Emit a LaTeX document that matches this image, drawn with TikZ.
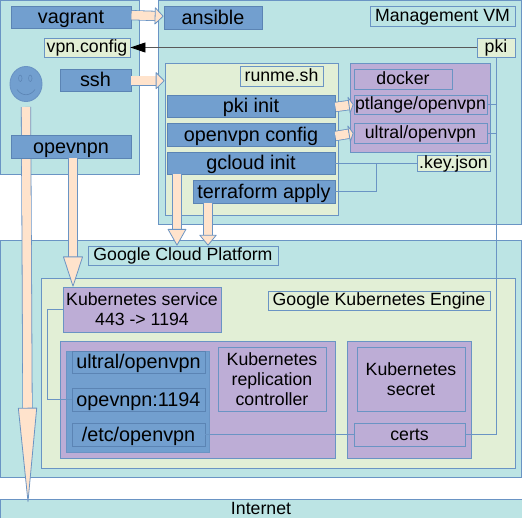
\documentclass[tikz,border=0pt]{standalone}
\usepackage{fontspec}
\setmainfont{Liberation Sans}
\usepackage{xcolor}
\usetikzlibrary{arrows.meta,calc,shapes.geometric}
\definecolor{panelteal}{HTML}{BCE4E4}
\definecolor{panelgreen}{HTML}{E2EFD6}
\definecolor{boxblue}{HTML}{729FCF}
\definecolor{boxpurple}{HTML}{BDADD6}
\definecolor{peach}{HTML}{FFE3CC}
\definecolor{edgeblue}{HTML}{6A94C4}
\definecolor{edgedark}{HTML}{5B84B4}

\begin{document}
\begin{tikzpicture}[
    x=1pt, y=-1pt,
    bigfont/.style={font=\fontsize{19.8}{20}\selectfont, text height=16pt, text depth=2pt},
    smallfont/.style={font=\fontsize{17.7}{20}\selectfont, text height=13pt, text depth=2pt},
    lines/.style={text height=, text depth=},
    box/.style={draw=edgeblue, line width=0.9pt, inner sep=0pt, align=center, smallfont},
    tealbox/.style={box, fill=panelteal},
    greenbox/.style={box, fill=panelgreen},
    bluebox/.style={box, draw=edgedark, fill=boxblue, bigfont},
    purplebox/.style={box, fill=boxpurple},
    wire/.style={draw=edgeblue, line width=0.9pt},
    blockarrow/.style 2 args={draw=edgeblue, line width=0.8pt, double=peach, double distance=8.6pt,
        -{Triangle[length=#1, width=#2, line width=0.8pt, fill=peach, round=false]}},
]
\useasboundingbox (0,0) rectangle (522,518);

% panels
\node[tealbox, minimum width=139, minimum height=174] (laptop) at (69.5,87) {};
\node[tealbox, minimum width=363, minimum height=224] (mgmt) at (339.5,112) {};
\node[tealbox, minimum width=521, minimum height=237] (cloud) at (260.5,358.5) {};
\node[tealbox, minimum width=522, minimum height=20] (internet) at (261,509) {Internet};
\node[greenbox, minimum width=474, minimum height=190] (gke) at (278,373) {};
\node[greenbox, minimum width=173, minimum height=152] (runme) at (251.5,139) {};
\node[purplebox, minimum width=140, minimum height=89] (docker) at (420,107.5) {};
\node[purplebox, minimum width=275, minimum height=117] (repl) at (197.5,399.5) {};
\node[purplebox, minimum width=124, minimum height=117] (secret) at (409,399.5) {};
\node[box, fill=boxblue, minimum width=143, minimum height=101] (pod) at (137.5,401.5) {};

% smiley, its arrow runs under the opevnpn box
\node[ellipse, draw=edgeblue, fill=boxblue, line width=0.9pt, minimum width=32, minimum height=35, inner sep=0pt] (smile) at (26,84) {};
\node[ellipse, draw=edgedark, line width=0.5pt, minimum width=3.5, minimum height=6.5, inner sep=0pt] (eyeleft) at (20.3,78.3) {};
\node[ellipse, draw=edgedark, line width=0.5pt, minimum width=3.5, minimum height=6.5, inner sep=0pt] (eyeright) at (30.3,78.3) {};
\draw[edgedark, line width=0.6pt] (17,89.5) .. controls (22,96.5) and (30,96.5) .. (35,89.5);
\coordinate (smileout) at (26,107);
\coordinate (smiletip) at (28,502);
\draw[blockarrow={98pt}{19pt}] (smileout) -- (smiletip);

% upper boxes
\node[bluebox, minimum width=120, minimum height=22] (vagrant) at (71,17) {vagrant};
\node[bluebox, minimum width=98, minimum height=23] (ansible) at (213,17.5) {ansible};
\node[greenbox, minimum width=86, minimum height=19] (vpnconfig) at (87,47.5) {vpn.config};
\node[bluebox, minimum width=71, minimum height=22] (ssh) at (95.5,80) {ssh};
\node[bluebox, minimum width=120, minimum height=23] (opevnpn) at (71,146.5) {opevnpn};
\node[tealbox, minimum width=145, minimum height=20] (mgmtlabel) at (442.5,16) {Management VM};
\node[greenbox, minimum width=38, minimum height=19] (pki) at (496,47.5) {pki};
\node[greenbox, minimum width=83, minimum height=20] (runmelabel) at (281.5,76) {runme.sh};
\node[bluebox, minimum width=168, minimum height=22] (pkiinit) at (251,106) {pki init};
\node[bluebox, minimum width=168, minimum height=23] (ovpnconfig) at (251,134.5) {openvpn config};
\node[bluebox, minimum width=168, minimum height=22] (gcloud) at (251,163) {gcloud init};
\node[bluebox, minimum width=142, minimum height=23] (terraform) at (264,191.5) {terraform apply};
\node[purplebox, minimum width=98, minimum height=20] (dockerlabel) at (403,79) {docker};
\node[purplebox, minimum width=133, minimum height=19] (ptlange) at (420.5,104.5) {ptlange/openvpn};
\node[purplebox, minimum width=133, minimum height=20] (ultralup) at (420.5,133) {ultral/openvpn};
\node[greenbox, minimum width=73, minimum height=16] (keyjson) at (453.5,163) {.key.json};

% lower boxes
\node[tealbox, minimum width=190, minimum height=19] (gcp) at (183,255.5) {Google Cloud Platform};
\node[greenbox, minimum width=222, minimum height=19] (gkelabel) at (379,300.5) {Google Kubernetes Engine};
\node[purplebox, lines, minimum width=158, minimum height=45] (service) at (142,309.5) {Kubernetes service\\443 -> 1194};
\node[bluebox, minimum width=133, minimum height=22] (ultraldown) at (138.5,362) {ultral/openvpn};
\node[bluebox, minimum width=133, minimum height=23] (port) at (138.5,399.5) {opevnpn:1194};
\node[bluebox, minimum width=133, minimum height=23] (etc) at (138.5,434.5) {/etc/openvpn};
\node[purplebox, lines, minimum width=108, minimum height=64] (controller) at (272,379) {Kubernetes\\replication\\controller};
\node[purplebox, lines, minimum width=108, minimum height=64] (secretlabel) at (411,379) {Kubernetes\\secret};
\node[purplebox, minimum width=111, minimum height=23] (certs) at (409.5,434.5) {certs};

% block arrows
\coordinate (gcloudout) at (177,174);
\coordinate (terraformout) at (208,203);
\coordinate (opevnpnout) at (73,158);
\draw[blockarrow={9pt}{18pt}] ([yshift=1.8pt]vagrant.east) -- ([yshift=1.3pt]ansible.west);
\draw[blockarrow={9pt}{18pt}] ([yshift=-0.7pt]ssh.east) -- ([yshift=-0.7pt]ssh.east -| runme.west);
\draw[blockarrow={5pt}{19pt}] ([yshift=-1pt]pkiinit.east) -- (ptlange.west);
\draw[blockarrow={5pt}{19pt}] ([yshift=-1.5pt]ovpnconfig.east) -- (ultralup.west);
\draw[blockarrow={17pt}{19pt}] (gcloudout) -- (gcloudout |- gcp.north);
\draw[blockarrow={11pt}{18pt}] (terraformout) -- (terraformout |- gcp.north);
\draw[blockarrow={31pt}{20pt}] (opevnpnout) -- (opevnpnout |- service.north);

% wires
\coordinate (pkidown) at (496,434.5);
\coordinate (keydrop) at (376,191.5);
\coordinate (serviceleft) at (47.5,309.5);
\draw[-{Triangle[length=15pt, width=10pt, black]}, draw=black!65, line width=0.9pt] (pki.west) -- (vpnconfig.east);
\draw[wire] (pki.south) -- (pkidown) -- (certs.east);
\draw[wire] (ptlange.east) -- (ptlange.east -| pkidown);
\draw[wire] (ultralup.east) -- (ultralup.east -| pkidown);
\draw[wire] (gcloud.east) -- (keyjson.west);
\draw[wire] (terraform.east) -- (keydrop) -- (keydrop |- keyjson.west);
\draw[wire] (service.west) -- (serviceleft) -- (serviceleft |- port.west) -- (port.west);
\draw[wire] (etc.east) -- (certs.west);
\end{tikzpicture}
\end{document}
